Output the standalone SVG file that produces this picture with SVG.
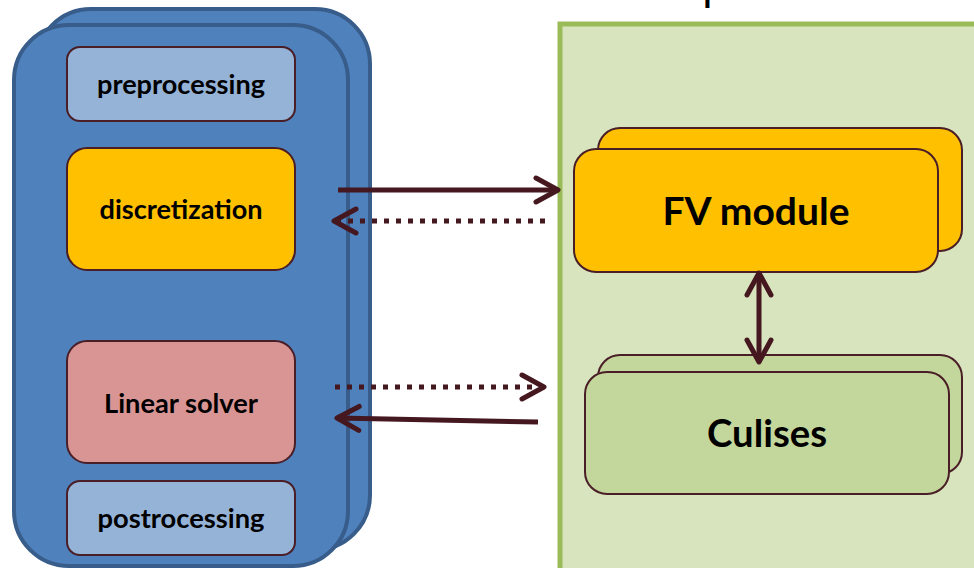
<svg xmlns="http://www.w3.org/2000/svg" width="974" height="568" viewBox="0 0 974 568">
  <style>
    .blue { fill: #4f81bd; stroke: #385d8a; stroke-width: 4; }
    .node { stroke: #4a1e26; stroke-width: 2; }
    .light { fill: #95b3d7; }
    .orange { fill: #ffc000; }
    .red { fill: #d99594; }
    .green { fill: #c3d69b; }
    .lbl { font-family: "Lato", "Liberation Sans", sans-serif; font-weight: bold; fill: #000; text-anchor: middle; }
    .small { font-size: 26px; }
    .big { font-size: 38px; }
    .title { font-family: "Lato", "Liberation Sans", sans-serif; font-size: 44px; fill: #000; }
    .arr { fill: none; stroke: #45171f; stroke-width: 5; }
    .dot { stroke-dasharray: 5 7; }
  </style>
  <defs>
    <marker id="head" markerUnits="userSpaceOnUse" markerWidth="40" markerHeight="40" viewBox="-30 -20 40 40" refX="0" refY="0" orient="auto-start-reverse" overflow="visible">
      <path d="M-22,-12 L0,0 L-22,12" fill="none" stroke="#45171f" stroke-width="5" stroke-linecap="round" stroke-linejoin="round" stroke-dasharray="none"/>
    </marker>
  </defs>

  <rect width="974" height="568" fill="#ffffff"/>

  <text class="title" x="551" y="-0.5" textLength="411" lengthAdjust="spacingAndGlyphs">GPU implementation</text>

  <g id="cpu-stack">
    <rect class="blue" x="36" y="9" width="334" height="541" rx="55"/>
    <rect class="blue" x="14" y="25" width="334" height="541" rx="55"/>
  </g>

  <g id="gpu-panel">
    <rect x="560" y="24" width="460" height="600" fill="#d7e4bd" stroke="#9bbb59" stroke-width="5"/>
  </g>

  <g id="preprocessing">
    <rect class="node light" x="67" y="47" width="228" height="74" rx="13"/>
    <text class="lbl small" x="181" y="94" textLength="168" lengthAdjust="spacingAndGlyphs">preprocessing</text>
  </g>

  <g id="discretization">
    <rect class="node orange" x="67" y="148" width="228" height="122" rx="20"/>
    <text class="lbl small" x="181" y="219" textLength="163" lengthAdjust="spacingAndGlyphs">discretization</text>
  </g>

  <g id="linear-solver">
    <rect class="node red" x="67" y="341" width="228" height="122" rx="20"/>
    <text class="lbl small" x="181" y="413" textLength="154" lengthAdjust="spacingAndGlyphs">Linear solver</text>
  </g>

  <g id="postrocessing">
    <rect class="node light" x="67" y="481" width="228" height="74" rx="13"/>
    <text class="lbl small" x="181" y="528" textLength="167" lengthAdjust="spacingAndGlyphs">postrocessing</text>
  </g>

  <g id="fv-module">
    <rect class="node orange" x="598" y="128" width="364" height="123" rx="22"/>
    <rect class="node orange" x="574" y="149" width="364" height="123" rx="22"/>
    <text class="lbl big" x="756" y="225" textLength="187" lengthAdjust="spacingAndGlyphs">FV module</text>
  </g>

  <g id="culises">
    <rect class="node green" x="598" y="355" width="364" height="119" rx="22"/>
    <rect class="node green" x="585" y="372" width="364" height="122" rx="22"/>
    <text class="lbl big" x="767" y="447" textLength="120" lengthAdjust="spacingAndGlyphs">Culises</text>
  </g>

  <g id="connectors">
    <path class="arr" d="M338,190 H558" marker-end="url(#head)"/>
    <path class="arr dot" d="M545,221 H334" marker-end="url(#head)"/>
    <path class="arr dot" d="M335,387 H544" marker-end="url(#head)"/>
    <path class="arr" d="M538,422 L337,418" marker-end="url(#head)"/>
    <path class="arr" d="M759,273 V362" marker-start="url(#head)" marker-end="url(#head)"/>
  </g>
</svg>
